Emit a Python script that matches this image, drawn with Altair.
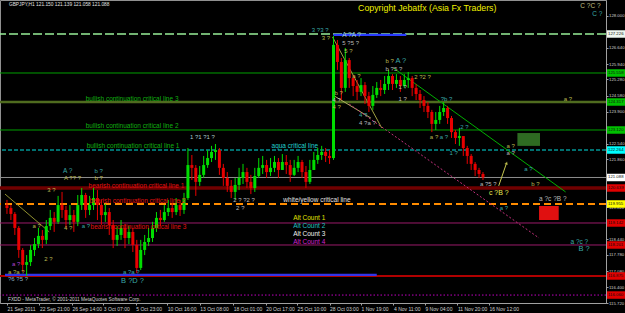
import altair as alt
import pandas as pd

# ---------------- candles (each candle = 8 H1 bars), prices ----------------
close = [119.78,119.53,118.93,117.99,117.35,117.47,117.99,118.24,118.59,118.42,119.01,119.36,119.19,119.91,119.70,119.27,
 119.48,119.19,119.91,120.34,119.70,119.91,120.21,119.91,119.48,119.61,119.06,118.42,118.63,118.93,118.50,118.76,118.20,117.22,117.99,118.33,118.50,118.93,119.36,119.27,119.61,119.78,119.61,119.91,119.70,120.21,
 121.62,121.50,120.90,121.20,121.62,121.92,122.18,122.26,121.50,121.07,120.73,120.47,120.77,121.07,121.32,120.90,120.64,121.15,121.50,121.62,121.32,121.50,121.75,121.41,121.75,121.62,121.20,121.50,121.75,121.32,120.90,121.41,121.84,122.05,122.18,122.01,121.92,
 126.76,126.03,124.92,126.11,125.34,125.00,124.75,125.04,124.57,124.15,124.62,124.92,124.83,125.09,125.43,125.09,125.26,125.00,125.26,125.34,124.92,124.66,124.40,124.15,123.89,123.38,123.55,123.89,124.06,123.63,123.03,122.78,122.86,122.35,122.01,121.67,121.41,121.24,121.09]
high = [120.13,119.91,119.61,119.01,118.07,117.77,118.20,118.50,118.93,118.84,119.27,119.70,119.61,120.30,120.47,119.87,
 119.91,119.70,120.34,120.64,120.43,120.30,120.64,120.55,120.13,119.96,119.78,119.27,119.01,119.27,119.10,119.01,118.93,118.42,118.42,118.63,118.93,119.19,119.61,119.70,119.91,120.13,120.00,120.21,120.13,120.43,
 122.35,122.05,121.62,121.58,122.01,122.26,122.44,122.52,122.35,121.67,121.32,120.98,121.07,121.50,121.67,121.50,121.20,121.50,121.92,122.01,121.84,121.92,122.01,121.92,122.09,122.05,121.84,121.84,122.01,121.84,121.58,121.84,122.18,122.35,122.44,122.35,122.26,
 127.14,126.97,126.20,126.63,126.20,125.47,125.26,125.34,125.17,124.75,125.00,125.17,125.26,125.43,125.69,125.51,125.51,125.43,125.51,125.60,125.43,125.09,124.83,124.57,124.32,123.98,123.89,124.15,124.32,124.15,123.72,123.12,123.21,122.78,122.44,122.09,121.75,121.50,121.32]
low = [119.53,119.27,118.63,117.65,117.05,116.88,117.30,117.73,118.07,118.07,118.24,118.84,118.76,119.10,119.36,118.93,
 119.06,118.76,119.01,119.70,119.36,119.48,119.70,119.27,119.06,119.19,118.63,118.07,118.16,118.42,118.07,118.24,117.90,117.00,117.13,117.77,118.16,118.33,118.76,119.01,119.19,119.44,119.36,119.48,119.44,119.53,
 120.13,120.98,120.30,120.73,121.07,121.50,121.75,121.84,121.20,120.73,120.47,120.21,120.13,120.55,120.81,120.64,120.38,120.47,121.07,121.24,121.07,121.15,121.32,121.07,121.41,121.24,120.90,121.15,121.32,121.07,120.64,120.81,121.41,121.67,121.84,121.75,121.67,
 121.84,125.69,124.40,124.75,124.92,124.57,124.40,124.57,124.23,123.89,123.98,124.49,124.57,124.66,124.83,124.83,124.92,124.75,124.92,124.92,124.57,124.40,124.06,123.89,123.63,123.03,123.12,123.38,123.72,123.38,122.78,122.52,122.44,122.01,121.67,121.41,121.15,121.07,120.98]
first_open = 119.90

# ---------------- axes ----------------
x_ticks = [4, 70, 136, 200, 266, 330, 396, 464, 530, 594, 660, 724, 790, 854, 920, 984]
x_labels = ["21 Sep 2011", "22 Sep 21:00", "26 Sep 14:00", "3 Oct 07:00", "5 Oct 23:00", "10 Oct 16:00",
            "13 Oct 08:00", "18 Oct 01:00", "20 Oct 17:00", "25 Oct 10:00", "28 Oct 03:00", "1 Nov 19:00",
            "4 Nov 11:00", "9 Nov 04:00", "11 Nov 20:00", "16 Nov 12:00"]
y_ticks = [128.0, 126.64, 125.94, 125.28, 124.58, 123.90, 122.54, 121.86, 119.82, 118.44, 117.78, 117.08, 116.40, 115.72]

# ---------------- horizontal levels ----------------
lvl_price = [127.226, 125.558, 124.317, 123.120, 122.264, 121.088, 120.639, 119.955, 119.142, 118.201, 116.875, 116.060]
lvl_color = ["#98ee98", "#00a000", "#4f6b1f", "#00a000", "#00e0e0", "#8c8c8c", "#700000", "#ff8c00", "#9a1a6a", "#9a1a6a", "#b00000", "#c000c0"]
lvl_width = [1.5, 1, 2.5, 1, 1.2, 1, 3.5, 1.8, 1, 1, 2, 1]
lvl_dash = ["d1", "s", "s", "s", "d2", "s", "s", "d3", "s", "s", "s", "d4"]
lvl_box = ["#eef6ee", "#00c000", "#00c000", "#00c000", "#00ffff", "#ffffff", "#e00000", "#ffff00", "#e00000", "#e00000", "#e00000", "#e00000"]
dash_styles = {"d1": [9, 3], "d2": [4, 2], "d3": [7, 4], "d4": [1.5, 2]}

# partial segments
seg_t1 = [668, 0]
seg_t2 = [816, 756]
seg_p = [127.19, 116.92]
seg_color = ["#2a3cff", "#3434e8"]

# trend lines: (t1, p1, t2, p2)
tr_t1 = [790, 666, 670, 0, 1004]
tr_p1 = [125.77, 127.10, 124.57, 120.38, 120.73]
tr_t2 = [1140, 766, 744, 90, 1020]
tr_p2 = [120.47, 123.21, 123.63, 118.76, 121.71]
tr_color = ["#00b000", "#a0a040", "#b0b060", "#909030", "#c8c850"]
mag_t = [700, 1086]
mag_p = [124.23, 118.50]

# boxes
box_t1 = [1042, 1086]
box_t2 = [1088, 1126]
box_p1 = [122.99, 119.87]
box_p2 = [122.44, 119.27]
box_color = ["#2e6b22", "#e01010"]

# ---------------- annotations ----------------
TEAL, OLIVE, GRAY, YEL, PUR = "#3aa8a8", "#b8b850", "#b8b8b8", "#e8e850", "#b040d0"
ann_text = ["C ?C ?", "C ?", "3 ?3 ?", "3 ?", "A ?A ?", "5 ?5 ?", "5 ?", "b ?", "A ?", "b ?5 ?", "2 ?2 ?",
            "1 ?", "1 ?", "?b ?", "a ?", "b ?", "4 ?", "a ?", "4 ?", "4 ?", "4 ?a ?", "a ?", "a ?", "2 ?",
            "1 ?", "a ?", "a ?", "a ?", "b ?", "a ?5 ?", "c ?B ?", "a ?c ?B ?", "a ?", "a ?c ?", "B ?",
            "A ?", "A ?? ?", "b ?", "b ?", "3 ?", "1 ?1 ?1 ?", "2 ? ?2 ?", "2 ?", "4 ?", "a ?", "a ?", "2 ?",
            "a ?", "a ?a ?", "?6 ?5 ?", "a ?a ?", "B ?D ?"]
ann_t = [1170, 1194, 624, 644, 686, 686, 690, 774, 794, 774, 832,
         800, 800, 886, 1136, 670, 666, 706, 666, 720, 720, 864, 884, 926,
         904, 1020, 1020, 1056, 1070, 966, 984, 1086, 1006, 1150, 1166,
         118, 120, 182, 182, 86, 376, 464, 470, 120, 156, 56, 80,
         14, 6, 6, 240, 236]
ann_p = [128.42, 128.08, 127.40, 127.05, 127.18, 126.84, 126.50, 126.07, 126.07, 125.73, 125.39,
         124.96, 124.45, 124.45, 124.45, 124.70, 124.40, 125.43, 124.10, 123.76, 123.42, 122.82, 122.82, 123.25,
         122.14, 122.44, 122.14, 121.45, 120.81, 120.81, 120.43, 120.17, 119.78, 118.33, 118.03,
         121.36, 121.05, 121.36, 121.06, 120.55, 122.82, 120.13, 119.78, 118.93, 119.01, 119.01, 117.60,
         117.39, 117.05, 116.75, 117.05, 116.66]
ann_color = ["#c0c080", TEAL, TEAL, OLIVE, "#a0d0d0", GRAY, OLIVE, OLIVE, TEAL, GRAY, OLIVE,
             GRAY, GRAY, TEAL, OLIVE, OLIVE, GRAY, OLIVE, OLIVE, TEAL, GRAY, OLIVE, TEAL, TEAL,
             TEAL, OLIVE, GRAY, TEAL, OLIVE, GRAY, YEL, GRAY, TEAL, TEAL, TEAL,
             TEAL, OLIVE, TEAL, OLIVE, OLIVE, "#a8c8c8", GRAY, GRAY, OLIVE, TEAL, OLIVE, OLIVE,
             PUR, OLIVE, "#90b0c0", TEAL, TEAL]
ann_size = [6.5, 6.5, 6, 6, 6.5, 6, 6, 6, 7.5, 6, 6,
            6, 6, 6, 6, 6, 6, 6, 6, 6, 6, 6, 6, 6,
            6, 6, 6, 6, 6, 6, 7, 6.5, 6, 6.5, 7.5,
            6.5, 6, 6, 6, 6, 6, 6, 6, 6, 6, 6, 6,
            6, 6, 6, 6, 7.5]

lbl_text = ["bullish continuation critical line 3", "bullish continuation critical line 2",
            "bullish continuation critical line 1", "aqua critical line",
            "bearish continuation critical line 1", "bearish continuation critical line 2",
            "white/yellow critical line", "bearish continuation critical line 3",
            "Alt Count 1", "Alt Count 2", "Alt Count 3", "Alt Count 4",
            "Copyright Jebatfx (Asia Fx Traders)",
            "GBPJPY,H1  121.150 121.139 121.058 121.088",
            "FXDD - MetaTrader, \u00a9 2001-2011 MetaQuotes Software Corp."]
lbl_t = [164, 164, 166, 542, 170, 172, 566, 174, 586, 586, 586, 586, 718, 8, 6]
lbl_p = [124.45, 123.29, 122.44, 122.44, 120.71, 120.08, 120.13, 118.97, 119.36, 119.01, 118.67, 118.33, 128.34, 128.47, 115.85]
lbl_color = ["#10b010", "#10b010", "#10b010", "#20d0d0", "#e01010", "#e01010", "#e0e0e0", "#e01010",
             "#e0e000", "#20c0c0", "#f0f0f0", "#d020d0", "#f0f000", "#e0e0e0", "#d0d0d0"]
lbl_size = [6.5, 6.5, 6.5, 6.5, 6.5, 6.5, 6.5, 6.5, 6.5, 6.5, 6.5, 6.5, 8.8, 4.8, 4.8]

FONT = "Liberation Sans"

# ---------------- build ----------------
n = len(close)
opens = [first_open] + close[:-1]
cdf = pd.DataFrame({"t": [4 + 8 * i for i in range(n)], "o": opens, "h": high, "l": low, "c": close})
cdf["hi"] = cdf[["h", "o", "c"]].max(axis=1)
cdf["lo"] = cdf[["l", "o", "c"]].min(axis=1)
cdf["col"] = ["#00dd00" if c >= o else "#e80000" for o, c in zip(cdf["o"], cdf["c"])]

xs = alt.Scale(domain=[0, 1212], nice=False, zero=False)
ys = alt.Scale(domain=[115.72, 128.68], nice=False, zero=False)

label_expr = "[" + ",".join("'%s'" % s for s in x_labels) + "][indexof([" + ",".join(str(v) for v in x_ticks) + "], datum.value)]"

XA = alt.Axis(values=x_ticks, labelExpr=label_expr, orient="bottom", labelAlign="left", labelFontSize=5,
              labelFont=FONT, labelColor="#d0d0d0", tickColor="#a0a0a0", domainColor="#a0a0a0", tickSize=2,
              labelPadding=1, labelOverlap=False, labelFlush=False, grid=False, title=None)
YA = alt.Axis(values=y_ticks, format=".3f", orient="right", labelFontSize=4.3, labelFont=FONT,
              labelColor="#d0d0d0", tickColor="#a0a0a0", domainColor="#a0a0a0", tickSize=2,
              labelPadding=0.5, labelOverlap=False, labelFlush=False, grid=False, title=None)


def X(f):
    return alt.X(f, scale=xs, axis=XA)


def Y(f):
    return alt.Y(f, scale=ys, axis=YA)


layers = []

lvl = pd.DataFrame({"p": lvl_price, "col": lvl_color, "w": lvl_width, "dash": lvl_dash, "box": lvl_box,
                    "txt": ["%.3f" % v for v in lvl_price]})
solid = lvl[lvl["dash"] == "s"]
layers.append(alt.Chart(solid).mark_rule().encode(
    y=Y("p:Q"), color=alt.Color("col:N", scale=None),
    strokeWidth=alt.StrokeWidth("w:Q", scale=None)))
for key, pat in dash_styles.items():
    sub = lvl[lvl["dash"] == key]
    layers.append(alt.Chart(sub).mark_rule(strokeDash=pat).encode(
        y=Y("p:Q"), color=alt.Color("col:N", scale=None),
        strokeWidth=alt.StrokeWidth("w:Q", scale=None)))

seg = pd.DataFrame({"t1": seg_t1, "t2": seg_t2, "p": seg_p, "col": seg_color})
layers.append(alt.Chart(seg).mark_rule(strokeWidth=2.2).encode(
    x=X("t1:Q"), x2="t2:Q", y=Y("p:Q"), color=alt.Color("col:N", scale=None)))

# trend lines
rows = []
for i in range(len(tr_t1)):
    rows.append({"id": i, "t": tr_t1[i], "p": tr_p1[i], "col": tr_color[i]})
    rows.append({"id": i, "t": tr_t2[i], "p": tr_p2[i], "col": tr_color[i]})
tdf = pd.DataFrame(rows)
layers.append(alt.Chart(tdf).mark_line(strokeWidth=1).encode(
    x=X("t:Q"), y=Y("p:Q"), detail="id:N", color=alt.Color("col:N", scale=None)))
mdf = pd.DataFrame({"t": mag_t, "p": mag_p})
layers.append(alt.Chart(mdf).mark_line(strokeWidth=1, strokeDash=[2, 2], color="#c0307a").encode(
    x=X("t:Q"), y=Y("p:Q")))
adf = pd.DataFrame({"t": [tr_t2[4]], "p": [tr_p2[4]]})
layers.append(alt.Chart(adf).mark_point(shape="triangle-up", size=14, filled=True, color="#c8c850", angle=19).encode(
    x=X("t:Q"), y=Y("p:Q")))

# candles
layers.append(alt.Chart(cdf).mark_rule(strokeWidth=1).encode(
    x=X("t:Q"), y=Y("lo:Q"), y2="hi:Q", color=alt.Color("col:N", scale=None)))
layers.append(alt.Chart(cdf).mark_bar(size=3).encode(
    x=X("t:Q"), y=Y("o:Q"), y2="c:Q", color=alt.Color("col:N", scale=None)))

# boxes
bdf = pd.DataFrame({"t1": box_t1, "t2": box_t2, "p1": box_p1, "p2": box_p2, "col": box_color})
layers.append(alt.Chart(bdf).mark_rect().encode(
    x=X("t1:Q"), x2="t2:Q", y=Y("p1:Q"), y2="p2:Q", color=alt.Color("col:N", scale=None)))

# annotations
andf = pd.DataFrame({"t": ann_t, "p": ann_p, "txt": ann_text, "col": ann_color, "sz": ann_size})
layers.append(alt.Chart(andf).mark_text(align="left", baseline="middle", font=FONT).encode(
    x=X("t:Q"), y=Y("p:Q"), text="txt:N",
    color=alt.Color("col:N", scale=None), size=alt.Size("sz:Q", scale=None)))
ldf = pd.DataFrame({"t": lbl_t, "p": lbl_p, "txt": lbl_text, "col": lbl_color, "sz": lbl_size})
layers.append(alt.Chart(ldf).mark_text(align="left", baseline="middle", font=FONT).encode(
    x=X("t:Q"), y=Y("p:Q"), text="txt:N",
    color=alt.Color("col:N", scale=None), size=alt.Size("sz:Q", scale=None)))

# price boxes on the right axis
layers.append(alt.Chart(lvl).mark_rect().transform_calculate(
    top="datum.p + 0.16", bot="datum.p - 0.16").encode(
    x=alt.value(607), x2=alt.value(625),
    y=Y("top:Q"), y2="bot:Q", color=alt.Color("box:N", scale=None)))
layers.append(alt.Chart(lvl).mark_text(align="left", baseline="middle", font=FONT, fontSize=4.3, color="#101010").encode(
    x=alt.value(608), y=Y("p:Q"), text="txt:N"))

chart = alt.layer(*layers).properties(
    width=606, height=303,
    padding={"left": 0, "top": 0, "right": 19, "bottom": 10},
    autosize=alt.AutoSizeParams(type="none"),
    background="#000000",
).configure_view(stroke="#909090", strokeWidth=1)

chart.save("out.html", embed_options={"renderer": "svg", "actions": False})
